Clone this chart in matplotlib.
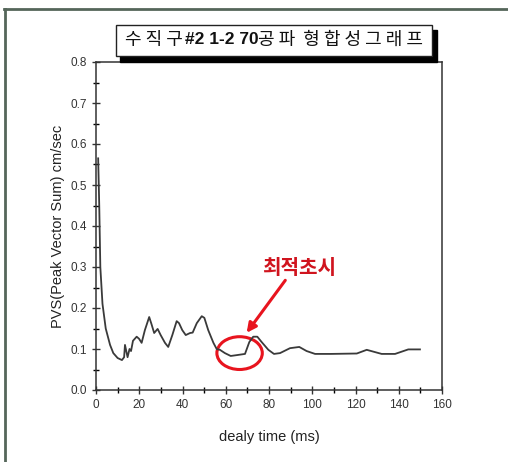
import numpy as np
import matplotlib.pyplot as plt
from matplotlib.patches import Ellipse, Rectangle
from matplotlib.lines import Line2D

plt.rcParams['font.family'] = ['Liberation Sans', 'Noto Sans CJK KR', 'DejaVu Sans']

# PVS curve
delay_ms = [1.0, 1.5, 2.0, 3.0, 4.5, 6.5, 8.0, 10.0, 12.0, 13.0, 13.4, 14.6, 15.5,
            16.2, 17.1, 18.8, 19.9, 21.1, 22.6, 24.6, 25.7, 26.9, 28.5, 29.9, 31.9,
            33.4, 35.3, 37.3, 38.4, 39.9, 41.5, 43.5, 44.7, 46.6, 48.9, 50.1, 51.9,
            54.3, 55.8, 57.3, 59.6, 62.3, 65.0, 68.9, 70.9, 72.7, 74.6, 76.6, 79.7,
            82.3, 85.1, 89.7, 94.0, 97.4, 101.3, 108.6, 120.6, 125.2, 132.1, 138.3,
            144.4, 149.8]
pvs = [0.565, 0.45, 0.30, 0.21, 0.15, 0.11, 0.09, 0.078, 0.073, 0.08, 0.11, 0.08, 0.10,
       0.095, 0.12, 0.13, 0.125, 0.115, 0.146, 0.178, 0.16, 0.139, 0.149, 0.134, 0.115,
       0.105, 0.134, 0.168, 0.163, 0.146, 0.134, 0.139, 0.14, 0.163, 0.18, 0.176, 0.146,
       0.115, 0.10, 0.098, 0.09, 0.083, 0.085, 0.088, 0.117, 0.13, 0.13, 0.117, 0.098,
       0.088, 0.09, 0.102, 0.105, 0.095, 0.088, 0.088, 0.089, 0.098, 0.088, 0.088,
       0.099, 0.099]

title_parts = ['수 직 구', '#2 1-2 70', '공 파  형 합 성 그 래 프']
note = '최적초시'

W, H = 508, 462
fig = plt.figure(figsize=(W / 100, H / 100), dpi=100)
fig.patch.set_facecolor('white')

def fx(px):
    return px / W

def fy(py):
    return 1 - py / H

# outer frame (top and left edges)
fig.add_artist(Line2D([fx(4), fx(508)], [fy(9), fy(9)], color='#55665a', lw=2))
fig.add_artist(Line2D([fx(5), fx(5)], [fy(9), fy(462)], color='#55665a', lw=2))

ax = fig.add_axes([fx(96), fy(390), fx(442) - fx(96), fy(62) - fy(390)])
ax.plot(delay_ms, pvs, color='#3a3a3a', lw=1.3)

ax.set_xlim(0, 160)
ax.set_ylim(0, 0.8)
ax.set_xticks(np.arange(0, 161, 20))
ax.set_xticks(np.arange(0, 161, 10), minor=True)
ax.set_yticks(np.arange(0, 0.81, 0.1))
ax.set_yticks(np.arange(0, 0.81, 0.05), minor=True)
ax.set_yticklabels([f'{v:.1f}' for v in np.arange(0, 0.81, 0.1)])
ax.tick_params(direction='inout', length=6, width=1, labelsize=8.5, colors='#333333')
ax.tick_params(which='minor', direction='inout', length=4, width=1)
for s in ax.spines.values():
    s.set_linewidth(1.1)
    s.set_color('#333333')

ax.set_xlabel('dealy time (ms)', fontsize=10.5, color='#222222', labelpad=14)
ax.set_ylabel('PVS(Peak Vector Sum) cm/sec', fontsize=10.5, color='#222222', labelpad=4)

# red annotation
ax.add_patch(Ellipse((66.4, 0.090), 21, 0.08, fill=False, ec='#e8141e', lw=2.2))
ax.annotate('', xy=(68.9, 0.134), xytext=(88.3, 0.273),
            arrowprops=dict(arrowstyle='-|>', color='#e8141e', lw=2.2, mutation_scale=14))
ax.text(93.9, 0.30, note, color='#d0141e', fontsize=14.5, fontweight='bold',
        ha='center', va='center', family=['Noto Sans CJK KR'])

# title box with shadow
fig.add_artist(Rectangle((fx(120), fy(62)), fx(437) - fx(120), fy(30) - fy(62),
                         fc='black', ec='black'))
fig.add_artist(Rectangle((fx(116), fy(56)), fx(432) - fx(116), fy(25) - fy(56),
                         fc='white', ec='#222222', lw=1))
t1 = fig.text(0, fy(40), title_parts[0], fontsize=13, ha='left', va='center',
              family=['Noto Sans CJK KR'], color='#111111')
t2 = fig.text(0, fy(40), title_parts[1], fontsize=12.5, fontweight='bold', ha='left',
              va='center', family=['Liberation Sans'], color='#111111')
t3 = fig.text(0, fy(40), title_parts[2], fontsize=13, ha='left', va='center',
              family=['Noto Sans CJK KR'], color='#111111')
r = fig.canvas.get_renderer()
w1 = t1.get_window_extent(r).width
w2 = t2.get_window_extent(r).width
w3 = t3.get_window_extent(r).width
x0 = 274 - (w1 + w2 + w3 + 2) / 2
t1.set_x(x0 / W)
t2.set_x((x0 + w1 + 2) / W)
t3.set_x((x0 + w1 + 2 + w2) / W)

fig.savefig('out.png', dpi=100)
